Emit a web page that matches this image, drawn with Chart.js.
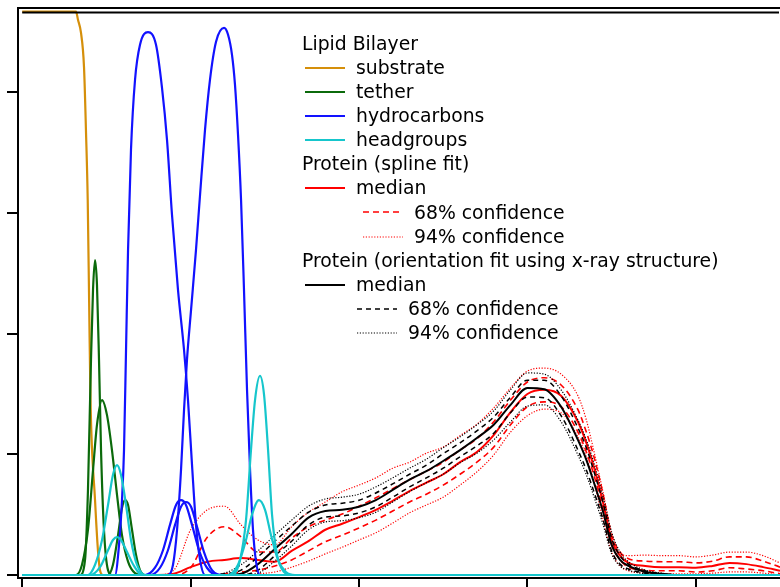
<!DOCTYPE html>
<html>
<head>
<meta charset="utf-8">
<title>Lipid bilayer and protein density profiles</title>
<script src="https://cdn.jsdelivr.net/npm/chart.js@4.4.1/dist/chart.umd.min.js"></script>
<style>
  html, body { margin: 0; padding: 0; background: #fff; }
  #wrap { position: relative; width: 780px; height: 587px; overflow: hidden; }
  #profile { position: absolute; left: 0; top: 0; }
  #legend { position: absolute; left: 0; top: 0; font-family: "DejaVu Sans", sans-serif; font-size: 18.8px; line-height: 1; color: #000; }
  #legend span { position: absolute; white-space: nowrap; }
  #legend svg { position: absolute; overflow: visible; }
</style>
</head>
<body>
<div id="wrap">
  <canvas id="profile" width="780" height="587"></canvas>
  <div id="legend"></div>
</div>
<script>
/* ---- axis ticks (distance along normal, volume fraction) ---- */
const xTicks = [0, 20, 40, 60, 80];
const yTicks = [0, 0.2, 0.4, 0.6, 0.8];

/* ---- lipid bilayer components: [z, fraction] ---- */
const substrate = [[0,0.934],[6.39,0.934],[6.63,0.920],[6.98,0.899],[7.34,0.842],[7.58,0.733],[7.78,0.622],[7.95,0.45],[8.11,0.290],[8.65,0.124],[9.0,0.040],[9.24,0.008],[9.6,0],[90,0]];

const tetherA = [[0,0],[6.86,0],[7.46,0.025],[7.81,0.141],[8.17,0.357],[8.41,0.473],[8.65,0.522],[8.88,0.481],[9.12,0.357],[9.36,0.207],[9.71,0.075],[10.19,0.008],[10.66,0],[90,0]];
const tetherB = [[0,0],[6.39,0],[7.10,0.017],[7.81,0.075],[8.41,0.174],[8.88,0.249],[9.48,0.290],[10.07,0.265],[10.66,0.207],[11.26,0.133],[11.85,0.066],[12.57,0.022],[13.40,0.003],[14.23,0],[90,0]];
const tetherC = [[0,0],[10.19,0],[10.78,0.017],[11.38,0.066],[11.85,0.111],[12.21,0.124],[12.57,0.116],[13.04,0.075],[13.52,0.033],[13.99,0.008],[14.59,0],[90,0]];

const hydroA = [[0,0],[11.02,0],[11.50,0.050],[11.85,0.124],[12.09,0.207],[12.33,0.373],[12.57,0.539],[12.92,0.705],[13.40,0.821],[13.99,0.879],[14.94,0.900],[15.89,0.879],[16.60,0.808],[17.20,0.721],[17.79,0.597],[18.50,0.473],[19.22,0.373],[19.69,0.290],[20.17,0.182],[20.64,0.083],[21.12,0.025],[21.71,0],[90,0]];
const hydroB = [[0,0],[17.31,0],[17.91,0.017],[18.39,0.075],[18.86,0.174],[19.22,0.274],[19.57,0.357],[20.05,0.439],[20.64,0.539],[21.12,0.630],[21.71,0.738],[22.30,0.821],[23.02,0.884],[23.97,0.907],[24.44,0.896],[24.92,0.862],[25.27,0.813],[25.63,0.730],[25.99,0.622],[26.34,0.473],[26.70,0.307],[27.06,0.174],[27.41,0.075],[27.77,0.022],[28.24,0],[90,0]];
const hydroC = [[0,0],[14.59,0],[15.77,0.012],[16.72,0.041],[17.55,0.083],[18.27,0.116],[18.86,0.124],[19.45,0.116],[20.17,0.083],[21.00,0.041],[21.94,0.012],[23.25,0],[90,0]];
const hydroD = [[0,0],[15.18,0],[16.37,0.012],[17.31,0.041],[18.15,0.083],[18.86,0.113],[19.45,0.121],[20.05,0.113],[20.76,0.080],[21.59,0.038],[22.54,0.008],[23.85,0],[90,0]];

const headA = [[0,0],[7.81,0],[8.65,0.017],[9.48,0.058],[10.19,0.116],[10.78,0.166],[11.26,0.182],[11.73,0.166],[12.33,0.116],[12.92,0.058],[13.63,0.017],[14.59,0],[90,0]];
const headB = [[0,0],[8.05,0],[9.24,0.013],[10.19,0.041],[10.78,0.058],[11.26,0.063],[11.73,0.058],[12.45,0.038],[13.28,0.015],[14.23,0],[90,0]];
const headC = [[0,0],[24.92,0],[25.87,0.025],[26.58,0.091],[27.17,0.207],[27.65,0.290],[28.24,0.330],[28.72,0.299],[29.20,0.207],[29.67,0.100],[30.27,0.033],[31.09,0.005],[32.04,0],[90,0]];
const headD = [[0,0],[24.44,0],[25.63,0.017],[26.58,0.058],[27.29,0.100],[28.12,0.124],[28.84,0.108],[29.55,0.066],[30.38,0.025],[31.33,0.005],[32.40,0],[90,0]];

/* ---- protein profiles on a shared z grid ---- */
const proteinZ = [0,14,16,18,20,22,24,26,28,30,32,34,36,38,40,42,44,46,48,50,52,54,56,58,60,62,64,66,67,68,69,70,71,72,74,76,78,80,82,84,86,88,90];

// spline fit
const splineMedian = [0,0, 0,0.002,0.013,0.022,0.025,0.028,0.025,0.022,0.040,0.056,0.075,0.085,0.096,0.108,0.123,0.139,0.153,0.167,0.187,0.204,0.232,0.270,0.300,0.307,0.297,0.254,0.219,0.174,0.119,0.058,0.032,0.020,0.015,0.013,0.013,0.012,0.015,0.020,0.018,0.013,0.007];
const spline68Hi   = [0,0, 0,0,0.012,0.063,0.080,0.063,0.038,0.038,0.061,0.080,0.091,0.101,0.114,0.128,0.143,0.158,0.172,0.187,0.207,0.226,0.254,0.290,0.320,0.327,0.315,0.274,0.237,0.191,0.133,0.066,0.038,0.027,0.023,0.022,0.022,0.020,0.023,0.030,0.030,0.023,0.013];
const spline68Lo   = [0,0, 0,0,0,0,0.002,0.005,0.008,0.015,0.025,0.040,0.055,0.066,0.078,0.091,0.106,0.121,0.134,0.149,0.167,0.187,0.212,0.249,0.279,0.287,0.279,0.237,0.204,0.161,0.108,0.050,0.025,0.013,0.008,0.007,0.007,0.005,0.007,0.012,0.010,0.007,0.002];
const spline94Hi   = [0,0, 0,0.008,0.075,0.108,0.114,0.083,0.058,0.050,0.080,0.104,0.121,0.138,0.149,0.161,0.177,0.187,0.202,0.212,0.231,0.250,0.277,0.310,0.338,0.343,0.333,0.297,0.257,0.199,0.136,0.070,0.036,0.032,0.033,0.032,0.032,0.030,0.033,0.038,0.038,0.032,0.020];
const spline94Lo   = [0,0, 0,0,0,0,0,0,0.002,0.005,0.013,0.023,0.035,0.046,0.058,0.070,0.086,0.103,0.116,0.129,0.149,0.171,0.199,0.237,0.264,0.275,0.269,0.229,0.196,0.149,0.091,0.038,0.015,0.007,0.003,0.002,0.002,0.002,0.003,0.005,0.005,0.003,0];

// orientation fit using x-ray structure
const xrayMedian = [0,0, 0,0,0,0,0,0.002,0.018,0.043,0.068,0.095,0.106,0.108,0.113,0.124,0.141,0.158,0.172,0.189,0.207,0.227,0.249,0.282,0.310,0.308,0.279,0.224,0.191,0.149,0.104,0.050,0.025,0.015,0.005,0.002,0,0,0,0,0,0,0];
const xray68Hi   = [0,0, 0,0,0,0,0.002,0.008,0.030,0.056,0.081,0.104,0.116,0.119,0.124,0.136,0.151,0.167,0.182,0.201,0.219,0.239,0.262,0.295,0.323,0.323,0.297,0.244,0.211,0.167,0.119,0.061,0.032,0.018,0.007,0.002,0,0,0,0,0,0,0];
const xray68Lo   = [0,0, 0,0,0,0,0,0,0.008,0.032,0.056,0.083,0.096,0.098,0.103,0.113,0.129,0.146,0.161,0.177,0.196,0.214,0.235,0.269,0.295,0.294,0.264,0.207,0.174,0.134,0.091,0.040,0.018,0.010,0.003,0,0,0,0,0,0,0,0];
const xray94Hi   = [0,0, 0,0,0,0,0.003,0.017,0.040,0.066,0.091,0.114,0.126,0.129,0.134,0.146,0.161,0.177,0.192,0.211,0.229,0.249,0.272,0.307,0.335,0.333,0.307,0.257,0.224,0.181,0.129,0.071,0.038,0.022,0.008,0.003,0,0,0,0,0,0,0];
const xray94Lo   = [0,0, 0,0,0,0,0,0,0.003,0.023,0.048,0.075,0.088,0.090,0.095,0.104,0.121,0.138,0.153,0.167,0.186,0.202,0.224,0.254,0.280,0.282,0.254,0.199,0.166,0.126,0.083,0.035,0.015,0.008,0.002,0,0,0,0,0,0,0,0];

/* ---- legend text ---- */
const legendRows = [
  ['head', 'Lipid Bilayer'],
  ['substrate', 'substrate'],
  ['tether', 'tether'],
  ['hydro', 'hydrocarbons'],
  ['head_', 'headgroups'],
  ['head', 'Protein (spline fit)'],
  ['redMed', 'median'],
  ['red68', '68% confidence'],
  ['red94', '94% confidence'],
  ['head', 'Protein (orientation fit using x-ray structure)'],
  ['blkMed', 'median'],
  ['blk68', '68% confidence'],
  ['blk94', '94% confidence']
];

/* ---- styles ---- */
const C = { substrate:'#d58f0a', tether:'#0b6a0b', hydro:'#1212ff', head_:'#16c6cc', red:'#ff0000', blk:'#000000' };
const S = {
  substrate: { color:C.substrate, width:2.2, dash:[] },
  tether:    { color:C.tether,    width:2.2, dash:[] },
  hydro:     { color:C.hydro,     width:2.2, dash:[] },
  head_:     { color:C.head_,     width:2.2, dash:[] },
  redMed:    { color:C.red, width:2,   dash:[] },
  red68:     { color:C.red, width:1.6, dash:[6,4] },
  red94:     { color:C.red, width:1.2, dash:[1.2,1.6] },
  blkMed:    { color:C.blk, width:2,   dash:[] },
  blk68:     { color:C.blk, width:1.5, dash:[5,4] },
  blk94:     { color:C.blk, width:1.2, dash:[1.2,1.6] }
};

const pairs = (arr) => arr.map(([x, y]) => ({ x, y }));
const onGrid = (ys) => ys.map((y, i) => ({ x: proteinZ[i], y }));

function line(label, data, st){
  return {
    label, data,
    borderColor: st.color, borderWidth: st.width, borderDash: st.dash,
    pointRadius: 0, fill: false,
    cubicInterpolationMode: 'monotone'
  };
}

// dataset 0 is painted last (on top): headgroups end up over the baseline
const datasets = [
  line('headgroups', pairs(headA), S.head_),
  line('headgroups', pairs(headB), S.head_),
  line('headgroups', pairs(headC), S.head_),
  line('headgroups', pairs(headD), S.head_),
  line('hydrocarbons', pairs(hydroA), S.hydro),
  line('hydrocarbons', pairs(hydroB), S.hydro),
  line('hydrocarbons', pairs(hydroC), S.hydro),
  line('hydrocarbons', pairs(hydroD), S.hydro),
  line('tether', pairs(tetherA), S.tether),
  line('tether', pairs(tetherB), S.tether),
  line('tether', pairs(tetherC), S.tether),
  line('substrate', pairs(substrate), S.substrate),
  line('x-ray median', onGrid(xrayMedian), S.blkMed),
  line('x-ray 68% hi', onGrid(xray68Hi), S.blk68),
  line('x-ray 68% lo', onGrid(xray68Lo), S.blk68),
  line('x-ray 94% hi', onGrid(xray94Hi), S.blk94),
  line('x-ray 94% lo', onGrid(xray94Lo), S.blk94),
  line('spline median', onGrid(splineMedian), S.redMed),
  line('spline 68% hi', onGrid(spline68Hi), S.red68),
  line('spline 68% lo', onGrid(spline68Lo), S.red68),
  line('spline 94% hi', onGrid(spline94Hi), S.red94),
  line('spline 94% lo', onGrid(spline94Lo), S.red94)
];

/* inner frame line just under the outer top border */
const innerFrame = {
  id: 'innerFrame',
  afterDatasetsDraw(chart){
    const { ctx, chartArea, scales:{ x } } = chart;
    ctx.save();
    ctx.strokeStyle = '#000'; ctx.lineWidth = 1.8;
    ctx.beginPath();
    ctx.moveTo(x.getPixelForValue(0), chartArea.top + 4.5);
    ctx.lineTo(chartArea.right - 1, chartArea.top + 4.5);
    ctx.stroke();
    ctx.restore();
  }
};

const axisGrid = (len) => ({ drawOnChartArea:false, drawTicks:true, tickLength:len, color:'#000', lineWidth:2 });

new Chart(document.getElementById('profile'), {
  type: 'line',
  data: { datasets },
  options: {
    responsive: false,
    devicePixelRatio: 1,
    animation: false,
    events: [],
    layout: { padding: { top: 8, left: 7, right: 0, bottom: 0 } },
    plugins: { legend: { display:false }, tooltip: { enabled:false } },
    scales: {
      x: {
        type:'linear', position:'bottom', min:-0.5, max:90,
        afterBuildTicks: (s) => { s.ticks = xTicks.map(v => ({ value:v })); },
        ticks: { display:false },
        grid: axisGrid(9),
        border: { color:'#000', width:2 }
      },
      xTop: {
        type:'linear', position:'top', min:-0.5, max:90,
        ticks: { display:false },
        grid: { display:false, drawTicks:false },
        border: { display:true, color:'#000', width:2 }
      },
      y: {
        type:'linear', position:'left', min:-0.005, max:0.940,
        afterBuildTicks: (s) => { s.ticks = yTicks.map(v => ({ value:v })); },
        ticks: { display:false },
        grid: axisGrid(11),
        border: { color:'#000', width:2 }
      }
    }
  },
  plugins: [innerFrame]
});

/* ---- legend (HTML text + svg line samples) ---- */
(function buildLegend(){
  const box = document.getElementById('legend');
  const NS = 'http://www.w3.org/2000/svg';
  const place = {
    head:      { text:302 },
    substrate: { x0:305, x1:345, text:356 },
    tether:    { x0:305, x1:345, text:356 },
    hydro:     { x0:305, x1:345, text:356 },
    head_:     { x0:305, x1:345, text:356 },
    redMed:    { x0:305, x1:345, text:356 },
    red68:     { x0:363, x1:403, text:414 },
    red94:     { x0:363, x1:403, text:414 },
    blkMed:    { x0:305, x1:345, text:356 },
    blk68:     { x0:357, x1:397, text:408 },
    blk94:     { x0:357, x1:397, text:408 }
  };
  legendRows.forEach(([key, text], i) => {
    const base = 50.7 + 24.1 * i;
    const p = place[key];
    const span = document.createElement('span');
    span.textContent = text;
    span.style.left = p.text + 'px';
    span.style.top = (base - 15.9) + 'px';
    box.appendChild(span);
    if (p.x0 !== undefined) {
      const st = S[key];
      const svg = document.createElementNS(NS, 'svg');
      svg.setAttribute('width', p.x1 - p.x0);
      svg.setAttribute('height', 4);
      svg.style.left = p.x0 + 'px';
      svg.style.top = (base - 9) + 'px';
      const ln = document.createElementNS(NS, 'line');
      ln.setAttribute('x1', 0); ln.setAttribute('y1', 2);
      ln.setAttribute('x2', p.x1 - p.x0); ln.setAttribute('y2', 2);
      ln.setAttribute('stroke', st.color);
      ln.setAttribute('stroke-width', Math.min(st.width, 2));
      if (st.dash.length) ln.setAttribute('stroke-dasharray', st.dash.join(' '));
      svg.appendChild(ln);
      box.appendChild(svg);
    }
  });
})();
</script>
</body>
</html>
